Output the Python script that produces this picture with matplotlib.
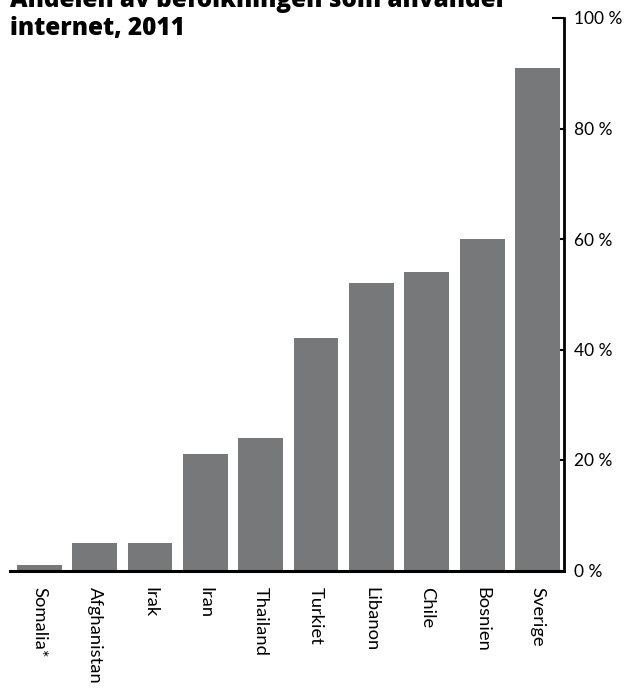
import matplotlib
matplotlib.use("Agg")
import matplotlib.pyplot as plt

countries = ["Somalia*", "Afghanistan", "Irak", "Iran", "Thailand",
             "Turkiet", "Libanon", "Chile", "Bosnien", "Sverige"]
values = [1, 5, 5, 21, 24, 42, 52, 54, 60, 91]
yticks = [0, 20, 40, 60, 80, 100]
ytick_labels = ["0 %", "20 %", "40 %", "60 %", "80 %", "100 %"]
title_lines = ["Andelen av befolkningen som använder", "internet, 2011"]

fig = plt.figure(figsize=(6.28, 6.89), dpi=100)
ax = fig.add_axes([10/628, 1-570.5/689, (564-10)/628, (570.5-18)/689])

x = list(range(len(countries)))
ax.bar(x, values, width=0.81, color="#77787a", zorder=2)
ax.set_xlim(-0.53, 9.48)
ax.set_ylim(0, 100)

for s in ["top", "left"]:
    ax.spines[s].set_visible(False)
ax.spines["bottom"].set_linewidth(2.2)
ax.spines["right"].set_linewidth(2.0)
ax.spines["bottom"].set_zorder(3)

ax.yaxis.tick_right()
ax.set_yticks(yticks)
ax.set_yticklabels(ytick_labels, fontfamily="Lato", fontsize=12.5)
ax.tick_params(axis="y", direction="in", length=3.5, width=1.5, pad=7, right=True, left=False)
ax.yaxis.get_major_ticks()[-1].tick2line.set_markersize(9)

ax.set_xticks(x)
ax.set_xticklabels(countries, rotation=270, fontfamily="Lato", fontsize=13.2, va="top", ha="center")
ax.tick_params(axis="x", length=0, pad=12)

fig.text(10/628, 1-7/689, title_lines[0], fontsize=17.5, fontweight="heavy",
         fontfamily="Open Sans", ha="left", va="baseline")
fig.text(10/628, 1-35.5/689, title_lines[1], fontsize=17.5, fontweight="heavy",
         fontfamily="Open Sans", ha="left", va="baseline")

fig.savefig("out.png", dpi=100)
